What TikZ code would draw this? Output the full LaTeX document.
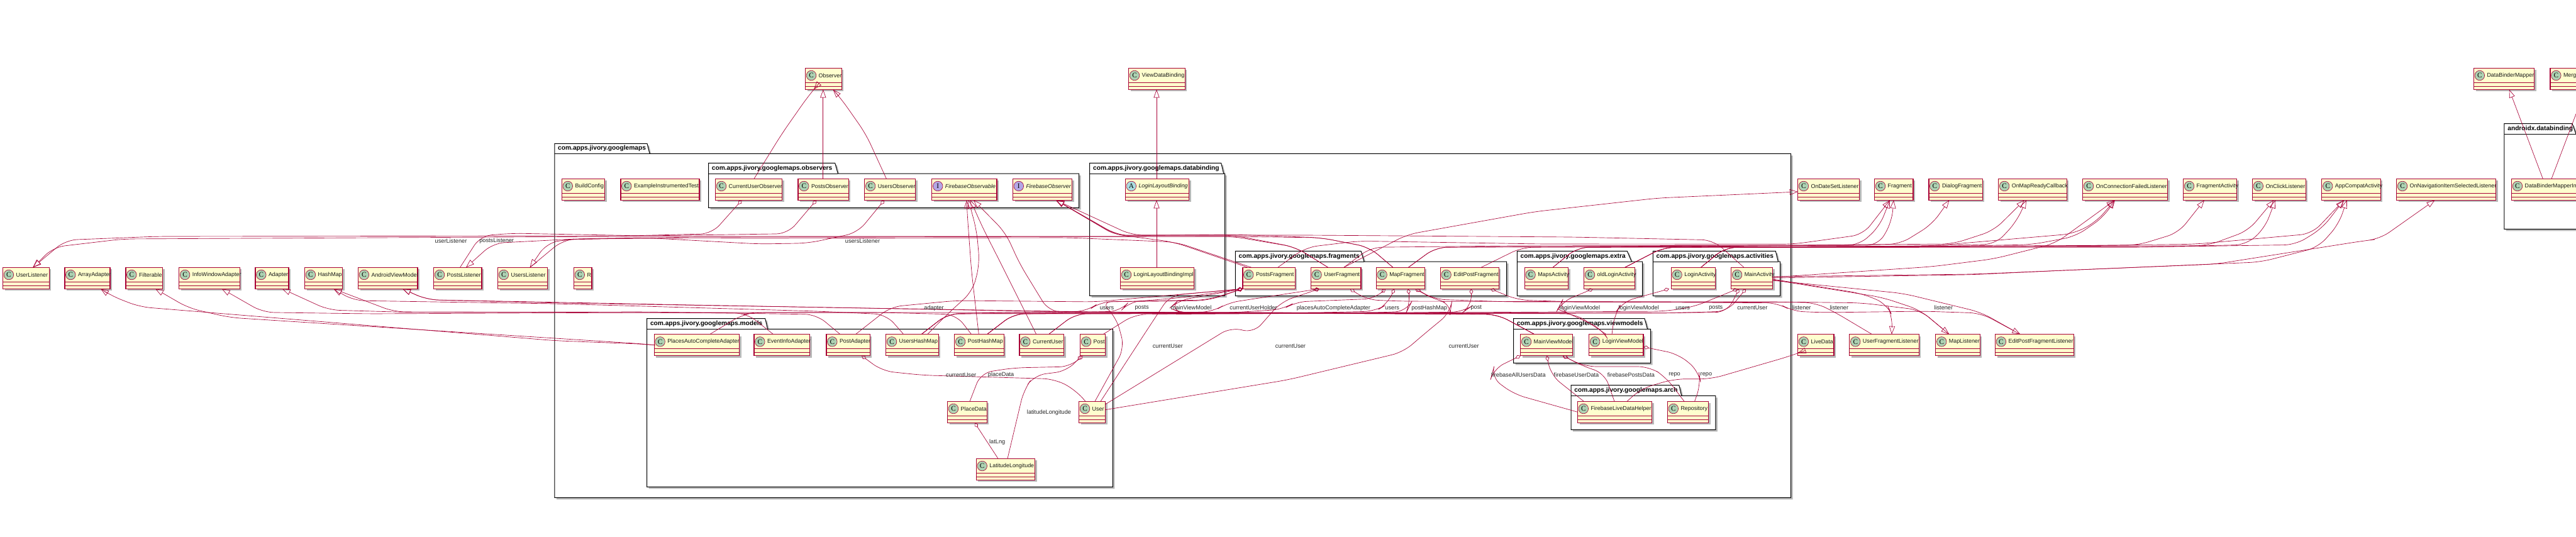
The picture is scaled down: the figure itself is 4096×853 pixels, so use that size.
\documentclass[tikz,border=0pt]{standalone}
\usepackage{fontspec}
\setmainfont{Liberation Sans}
\usetikzlibrary{arrows.meta,shadows}
\definecolor{umlred}{HTML}{A80036}
\definecolor{umlbox}{HTML}{FEFECE}
\definecolor{dotC}{HTML}{ADD1B2}
\definecolor{dotI}{HTML}{B4A7E5}
\definecolor{dotA}{HTML}{A9DCDF}
\tikzset{
  clsbox/.style={draw=umlred,line width=.55pt,fill=umlbox,inner sep=0pt,outer sep=0pt,minimum height=17pt,
    general shadow={fill=black!28,shadow xshift=1.5pt,shadow yshift=-1.5pt}},
  clsrule/.style={draw=umlred,line width=.55pt},
  clsdot/.style={circle,draw=umlred,line width=.3pt,inner sep=0pt,minimum size=7.8pt,font=\fontsize{5.6}{6}\selectfont\bfseries\setmainfont{Liberation Serif}},
  clslabel/.style={anchor=west,inner sep=0pt,text=black!90,font=\fontsize{4.45}{5}\selectfont},
  pkgline/.style={draw=black,line width=.5pt,fill=white,general shadow={fill=black!28,shadow xshift=1.5pt,shadow yshift=-1.5pt}},
  pkglabel/.style={anchor=west,inner sep=0pt,font=\fontsize{5.1}{6}\selectfont\bfseries},
  edgelabel/.style={inner sep=0pt,text=black!85,font=\fontsize{4.6}{5}\selectfont},
  edgeline/.style={draw=umlred,line width=.33pt,rounded corners=9pt},
}
\newcommand\clsk[7]{%
  \node[clsbox,minimum width={(#3-#2)*0.5pt},anchor=north west] (#1) at (#2,#4) {};
  \draw[clsrule] ([yshift=-11.5pt]#1.north west) -- ([yshift=-11.5pt]#1.north east);
  \draw[clsrule] ([yshift=-14.5pt]#1.north west) -- ([yshift=-14.5pt]#1.north east);
  \node[clsdot,fill=#6] (#1c) at ([xshift=4.65pt,yshift=-5.85pt]#1.north west) {#5};
  \node[clslabel] (#1t) at ([xshift=10.3pt,yshift=-5.85pt]#1.north west) {#7};
}
\newcommand\cls[5]{\clsk{#1}{#2}{#3}{#4}{C}{dotC}{#5}}
\newcommand\pkg[9]{%
  \path[pkgline] (#2,#3) -- (#5,#3) -- (#6,#4) -- (#7,#4) -- (#7,#8) -- (#2,#8) -- cycle;
  \draw[black,line width=.5pt] (#2,#4) -- (#6,#4);
  \node[pkglabel] (#1) at ([xshift=2.5pt]#2,{(#3+#4)/2}) {#9};
}
\newcommand\elab[4]{\node[edgelabel] (#1) at (#2,#3) {#4};}
\newcommand\gen[1]{\draw[edgeline,-{Triangle[open,length=6.5pt,width=4.6pt]}] #1;}
\newcommand\aggr[1]{\draw[edgeline,{Diamond[open,length=4.5pt,width=3pt]}-] #1;}
\newcommand\both[1]{\draw[edgeline,{Diamond[open,length=4.5pt,width=3pt]}-{Triangle[open,length=6.5pt,width=4.6pt]}] #1;}
\begin{document}
\begin{tikzpicture}[x=.5pt,y=-.5pt]
\useasboundingbox (0,0) rectangle (4096,853);
\clip (0,0) rectangle (4096,853);
% packages
\pkg{pmain}{881.8}{228.3}{244.3}{1029}{1033}{2847.5}{791.3}{com.apps.jivory.googlemaps}
\pkg{pobs}{1126.5}{259.3}{276}{1327.7}{1332.3}{1715.7}{330.3}{com.apps.jivory.googlemaps.observers}
\pkg{pbind}{1732.7}{259.3}{276}{1941.7}{1945.6}{1947.6}{470.3}{com.apps.jivory.googlemaps.databinding}
\pkg{pfrag}{1964.3}{399.3}{416}{2164}{2169}{2395.7}{470.7}{com.apps.jivory.googlemaps.fragments}
\pkg{pextra}{2412.3}{399.3}{416}{2587.3}{2594.3}{2611.7}{470.7}{com.apps.jivory.googlemaps.extra}
\pkg{pact}{2628.3}{399.3}{416}{2823.3}{2827.3}{2830.7}{470.7}{com.apps.jivory.googlemaps.activities}
\pkg{pmodel}{1028.6}{506.7}{523.3}{1216.7}{1220.6}{1769.3}{774.3}{com.apps.jivory.googlemaps.models}
\pkg{pvm}{2406.6}{506.7}{523.3}{2615}{2619.5}{2624.7}{577.3}{com.apps.jivory.googlemaps.viewmodels}
\pkg{parch}{2498}{612.7}{629.3}{2669.8}{2673.7}{2727.9}{683.3}{com.apps.jivory.googlemaps.arch}
\pkg{pandx}{3981.9}{196.7}{213.3}{4090}{4096}{4150}{364.3}{androidx.databinding}
% top row
\cls{OBS}{1280.7}{1338.2}{108.3}{Observer}
\cls{VDB}{1794.7}{1884.2}{108.3}{ViewDataBinding}
\cls{DBM}{3933.5}{4029.5}{108.3}{DataBinderMapper}
\cls{MDBM}{4055}{4200}{108.3}{MergedDataBinderMapper}
% row B
\cls{BC}{893.5}{961.5}{284.3}{BuildConfig}
\cls{EIT}{987}{1112}{284.3}{ExampleInstrumentedTest}
\cls{CUO}{1137.7}{1243.5}{284.3}{CurrentUserObserver}
\cls{POB}{1269}{1349.3}{284.3}{PostsObserver}
\cls{UOB}{1374.8}{1455.7}{284.3}{UsersObserver}
\clsk{FOA}{1481.9}{1585}{284.3}{I}{dotI}{\itshape FirebaseObservable}
\clsk{FOB}{1610.5}{1704.6}{284.3}{I}{dotI}{\itshape FirebaseObserver}
\clsk{LLB}{1789.5}{1890.7}{284.3}{A}{dotA}{\itshape LoginLayoutBinding}
\cls{ODS}{2858.6}{2956.6}{284.3}{OnDateSetListener}
\cls{FRG}{2980.7}{3042}{284.3}{Fragment}
\cls{DLG}{3067}{3152.3}{284.3}{DialogFragment}
\cls{OMR}{3177.8}{3286.2}{284.3}{OnMapReadyCallback}
\cls{OCF}{3311.7}{3446.9}{284.3}{OnConnectionFailedListener}
\cls{FAC}{3471.7}{3556.7}{284.3}{FragmentActivity}
\cls{OCL}{3581.5}{3666.4}{284.3}{OnClickListener}
\cls{ACA}{3691.9}{3785.3}{284.3}{AppCompatActivity}
\cls{ONI}{3810.7}{3968.8}{284.3}{OnNavigationItemSelectedListener}
\cls{DBMI}{3993.6}{4125}{284.3}{DataBinderMapperImpl}
% row A
\cls{UL}{4.6}{78.4}{425.3}{UserListener}
\cls{AAD}{103}{175}{425.3}{ArrayAdapter}
\cls{FIL}{200}{258.6}{425.3}{Filterable}
\cls{IWA}{284.8}{381.4}{425.3}{InfoWindowAdapter}
\cls{ADP}{406}{459}{425.3}{Adapter}
\cls{HMP}{484.6}{544.7}{425.3}{HashMap}
\cls{AVM}{569.6}{664}{425.3}{AndroidViewModel}
\cls{PLS}{689.7}{766}{425.3}{PostsListener}
\cls{ULS}{791.6}{870.7}{425.3}{UsersListener}
\cls{RRR}{912.5}{941}{425.3}{R}
\cls{LLBI}{1781.7}{1898.6}{425.3}{LoginLayoutBindingImpl}
\cls{PFR}{1976}{2059.3}{425.3}{PostsFragment}
\cls{UFR}{2084.3}{2164}{425.3}{UserFragment}
\cls{MFR}{2188.3}{2265.3}{425.3}{MapFragment}
\cls{EPF}{2290.3}{2383.3}{425.3}{EditPostFragment}
\cls{MAC}{2424.3}{2493.7}{425.3}{MapsActivity}
\cls{OLA}{2518.7}{2599.3}{425.3}{oldLoginActivity}
\cls{LAC}{2657.3}{2727.3}{425.3}{LoginActivity}
\cls{MAI}{2752.8}{2818.7}{425.3}{MainActivity}
% row C
\cls{PACA}{1040.3}{1175.5}{531.7}{PlacesAutoCompleteAdapter}
\cls{EVA}{1199}{1287.9}{531.7}{EventInfoAdapter}
\cls{PAD}{1314}{1383.2}{531.7}{PostAdapter}
\cls{UHM}{1408.7}{1492.3}{531.7}{UsersHashMap}
\cls{PHM}{1517.8}{1596.2}{531.7}{PostHashMap}
\cls{CUR}{1621}{1691.5}{531.7}{CurrentUser}
\cls{PST}{1717.7}{1757.5}{531.7}{Post}
\cls{MVM}{2417.7}{2500.6}{531.7}{MainViewModel}
\cls{LVM}{2526.8}{2613}{531.7}{LoginViewModel}
\cls{LDT}{2858.6}{2916}{531.7}{LiveData}
\cls{UFL}{2940.9}{3051.3}{531.7}{UserFragmentListener}
\cls{MLS}{3077.9}{3148.4}{531.7}{MapListener}
\cls{EPL}{3172.6}{3297.3}{531.7}{EditPostFragmentListener}
\cls{PDT}{1506.7}{1569.4}{638.3}{PlaceData}
\cls{USR}{1715.7}{1757.5}{638.3}{User}
\cls{FLD}{2508.5}{2626.7}{638.3}{FirebaseLiveDataHelper}
\cls{REP}{2651.5}{2716.8}{638.3}{Repository}
\cls{LAT}{1552.4}{1645.8}{729.3}{LatitudeLongitude}
% straight inheritance
\gen{(CUO.north -| 1199,0) -- (1243,213) -- (1285,153) -- (OBS.south -| 1294,0)}
\gen{(POB.north -| 1308.8,0) -- (OBS.south -| 1308.8,0)}
\gen{(UOB.north -| 1409.4,0) -- (1376.7,213) -- (1337.5,157) -- (OBS.south -| 1324.5,0)}
\gen{(LLB.north -| 1839,0) -- (VDB.south -| 1839,0)}
\gen{(LLBI.north -| 1839,0) -- (LLB.south -| 1839,0)}
\gen{(DBMI.north -| 4043.3,0) -- (DBM.south -| 3989.7,0)}
\gen{(DBMI.north -| 4057,0) -- (MDBM.south -| 4110.7,0)}
% FirebaseObservable
\gen{(PHM.north -| 1556.3,0) -- (1544.6,430) -- (1538,340) -- (FOA.south -| 1537,0)}
\gen{(UHM.north -| 1474.7,0) -- (1507,499) -- (1546.5,463) -- (1557.6,420) -- (1553,367) -- (FOA.south -| 1540,0)}
\gen{(CUR.north -| 1647.8,0) -- (1611.9,460) -- (1592,420) -- (1563,363) -- (FOA.south -| 1543,0)}
\gen{(MVM.north -| 2440,0) -- (2381,500) -- (2000,497) -- (1700,497) -- (1667.4,495) -- (1621.6,420) -- (1598.8,370) -- (FOA.south -| 1548,0)}
% FirebaseObserver
\gen{(PFR.north -| 1984,0) -- (1866.6,385) -- (1775,373) -- (FOB.south -| 1679,0)}
\gen{(UFR.north -| 2111.7,0) -- (2060,393) -- (1960,374) -- (1775,374) -- (FOB.south -| 1679,0)}
\gen{(MFR.north -| 2215,0) -- (2177,393) -- (2100,378) -- (1960,373) -- (1775,375) -- (FOB.south -| 1679,0)}
\gen{(MAI.north -| 2773,0) -- (2724,381.7) -- (2500,377) -- (2080,374) -- (1800,374) -- (FOB.south -| 1679,0)}
% left listeners
\both{(CUO.south -| 1179.5,0) -- (1131.8,371.7) -- (1000,375) -- (250,376) -- (104.5,381.7) -- (UL.north -| 52.3,0)}
\gen{(UFR.north -| 2111.7,0) -- (2060,393) -- (1960,376) -- (1000,376) -- (196,380) -- (85,393) -- (UL.north -| 52.3,0)}
\aggr{(POB.south -| 1298,0) -- (1252.6,371.7) -- (1024,375) -- (815,371) -- (764,375) -- (PLS.north -| 731.5,0)}
\gen{(PFR.north -| 1990,0) -- (1870,385) -- (1700,378) -- (1024,379) -- (914,380) -- (784,386.7) -- (PLS.north -| 741,0)}
\aggr{(UOB.south -| 1406,0) -- (1363.6,370) -- (1285,386.7) -- (1207,388) -- (1024,378) -- (914,380) -- (895,381.7) -- (ULS.north -| 842.6,0)}
\gen{(MFR.north -| 2215,0) -- (2177,393) -- (2100,378) -- (1960,376) -- (1100,377) -- (900,381) -- (869,386.7) -- (ULS.north -| 842.6,0)}
% lower left generalisations
\gen{(PACA.west) -- (1024,547.3) -- (882,541.7) -- (222,488) -- (176,470) -- (AAD.south -| 160,0)}
\gen{(PACA.west) -- (1024,547) -- (366,505) -- (300,490) -- (FIL.south -| 247,0)}
\gen{(EVA.north -| 1229.7,0) -- (1187,498) -- (1024,497) -- (588,499) -- (418,496.7) -- (IWA.south -| 352.7,0)}
\gen{(PAD.north -| 1336,0) -- (1298,500) -- (1024,496) -- (653,496.7) -- (522.5,493) -- (ADP.south -| 448.7,0)}
\gen{(UHM.north -| 1436.8,0) -- (1409,500) -- (1300,495) -- (1024,487) -- (882,483) -- (562,478) -- (HMP.south -| 530.4,0)}
\gen{(PHM.north -| 1544.6,0) -- (1520,500) -- (1400,497) -- (1024,497) -- (627,496) -- (HMP.south -| 530.4,0)}
\gen{(MVM.north -| 2440,0) -- (2381,500) -- (1800,497) -- (1200,487) -- (882,481.7) -- (679,476.7) -- (AVM.south -| 640,0)}
\gen{(LVM.north -| 2554,0) -- (2505,499) -- (1700,496) -- (1100,485) -- (882,480.7) -- (679,476.7) -- (AVM.south -| 640,0)}
% right generalisations
\gen{(PFR.north -| 2031.7,0) -- (2076.7,393.3) -- (2160,383.3) -- (2450,388) -- (2851,388.3) -- (2962.4,373) -- (FRG.south -| 3005,0)}
\gen{(UFR.north -| 2136.7,0) -- (2180,393.3) -- (2400,391) -- (2956,390) -- (2988.6,360) -- (FRG.south -| 3005,0)}
\gen{(MFR.north -| 2239.3,0) -- (2283,393.3) -- (2500,392) -- (2986.6,390) -- (3008,353) -- (FRG.south -| 3011,0)}
\gen{(UFR.north -| 2136.7,0) -- (2237.4,373) -- (2440,336.7) -- (2636,315) -- (ODS.west |- 0,305)}
\gen{(EPF.north -| 2355,0) -- (2420,393.3) -- (2700,392) -- (3021,388.3) -- (3072,356.7) -- (DLG.south -| 3099.4,0)}
\gen{(MFR.north -| 2239.3,0) -- (2283,393.3) -- (2600,392) -- (3104.7,388) -- (3170,366.7) -- (OMR.south -| 3219,0)}
\gen{(MAC.north -| 2469,0) -- (2508.5,393.3) -- (3000,392) -- (3173,388.3) -- (3206,353) -- (OMR.south -| 3222,0)}
\gen{(OLA.north -| 2583.6,0) -- (2645.6,393.3) -- (3072,391) -- (3297,371.7) -- (3333,353) -- (OCF.south -| 3362.7,0)}
\gen{(LAC.north -| 2704.4,0) -- (2743.6,393.3) -- (3072,392) -- (3230,389) -- (3300,376) -- (3345,345) -- (OCF.south -| 3362.7,0)}
\gen{(MAI.east |- 0,441) -- (3072,424) -- (3170,411.7) -- (3268,387) -- (OCF.south -| 3362.7,0)}
\gen{(MAC.north -| 2469,0) -- (2508.5,393.3) -- (3000,392) -- (3398.6,390) -- (3464,370) -- (FAC.south -| 3505,0)}
\gen{(OLA.north -| 2583.6,0) -- (2645.6,393.3) -- (3200,392) -- (3509.6,390.7) -- (3575,366.7) -- (OCL.south -| 3615.4,0)}
\gen{(LAC.north -| 2704.4,0) -- (2743.6,393.3) -- (3400,393) -- (3571.7,389.3) -- (3601,363) -- (OCL.south -| 3618,0)}
\gen{(OLA.north -| 2583.6,0) -- (2645.6,393.3) -- (3200,392) -- (3490,388.3) -- (3676,371.7) -- (ACA.south -| 3727,0)}
\gen{(LAC.north -| 2704.4,0) -- (2743.6,393.3) -- (3400,393) -- (3650,389.3) -- (3692.5,363) -- (ACA.south -| 3727,0)}
\gen{(MAI.east |- 0,442) -- (3137,436.7) -- (3281,430) -- (3594.5,416.7) -- (3686,393.3) -- (3718.6,356.7) -- (ACA.south -| 3731.7,0)}
\gen{(MAI.east |- 0,440) -- (3137,436) -- (3522.7,420) -- (3758,383) -- (3784,380) -- (ONI.south -| 3871.5,0)}
\gen{(MAI.east |- 0,444) -- (2960,466.7) -- (3000,483) -- (3009,503) -- (UFL.north -| 3008,0)}
\gen{(MAI.east |- 0,445) -- (2993,473) -- (3053,493) -- (MLS.north -| 3099.4,0)}
\gen{(MAI.east |- 0,446) -- (3026.7,466.7) -- (3150,496.7) -- (EPL.north -| 3212.4,0)}
\gen{(FLD.north -| 2587,0) -- (2609.7,618) -- (2662,602.7) -- (2720.8,602.7) -- (2844.8,566.7) -- (LDT.west |- 0,561.7)}
% aggregations from fragments and activities
\aggr{(PFR.south west) -- (1920,478) -- (1749,480) -- (1729,495) -- (1600,497) -- (1507,499) -- (UHM.north -| 1465,0)}
\aggr{(PFR.south west) -- (1873,474) -- (1795,480) -- (1781.7,495) -- (1612,499) -- (PHM.north -| 1569.4,0)}
\aggr{(PFR.south west) -- (1873,478) -- (1860,490) -- (1880,498) -- (2300,497) -- (2381,500) -- (MVM.north -| 2440,0)}
\aggr{(PFR.south west) -- (1742.5,480) -- (1520.4,478) -- (1416,488) -- (PAD.north -| 1360.4,0)}
\aggr{(PFR.south west) -- (1860,470) -- (1827,520) -- (USR.north -| 1750,0)}
\aggr{(PFR.south west) -- (1920,477) -- (1750,480) -- (1775,505) -- (1788,553) -- (USR.north -| 1741,0)}
\aggr{(UFR.south -| 2098,0) -- (2037,480) -- (1993,530) -- (1958,520) -- (USR.east |- 0,643)}
\aggr{(UFR.south -| 2098,0) -- (1951.5,481.7) -- (1928.6,496) -- (1710,499) -- (CUR.north -| 1667.4,0)}
\aggr{(UFR.south -| 2146.7,0) -- (2173,476.7) -- (2226.7,479) -- (2640,480) -- (2885,481) -- (2915,495) -- (UFL.north -| 2976.7,0)}
\aggr{(MFR.south -| 2203,0) -- (2187,475) -- (2060,480) -- (2040,492) -- (1960,497) -- (1200,497) -- (1180.8,500) -- (PACA.north -| 1128.5,0)}
\aggr{(MFR.south -| 2217,0) -- (2207,483) -- (2187,495) -- (2100,497) -- (1507,499) -- (UHM.north -| 1465,0)}
\aggr{(MFR.south -| 2239,0) -- (2243,483) -- (2237,495) -- (2193,497) -- (1612,499) -- (PHM.north -| 1569.4,0)}
\aggr{(MFR.south -| 2250,0) -- (2280,476) -- (2308,483) -- (2306,497) -- (2266,530) -- (2231,560) -- (2048,604) -- (USR.east |- 0,651.7)}
\aggr{(MFR.south -| 2252,0) -- (2280,476) -- (2400,480) -- (2826,480) -- (2960,481.7) -- (3053,493) -- (MLS.north -| 3099.4,0)}
\aggr{(EPF.south -| 2339.3,0) -- (2340,487) -- (2327,496) -- (2260,497) -- (1804.5,500) -- (PST.north -| 1754,0)}
\aggr{(EPF.south -| 2370,0) -- (2413,477) -- (2500,480) -- (2826.7,481.7) -- (2850,495) -- (2900,497) -- (3060,495) -- (3150,498) -- (EPL.north -| 3212.4,0)}
\aggr{(OLA.south -| 2533,0) -- (2483,480) -- (2477,491.7) -- (2493,498) -- (2547,523) -- (LVM.north -| 2552,0)}
\aggr{(LAC.south -| 2654,0) -- (2580,480) -- (2567,500) -- (LVM.north -| 2563,0)}
\aggr{(MAI.south -| 2763,0) -- (2693,488) -- (2647,495) -- (2300,497) -- (1507,499) -- (UHM.north -| 1465,0)}
\aggr{(MAI.south -| 2765,0) -- (2747,496) -- (2713,497) -- (1612,499) -- (PHM.north -| 1569.4,0)}
\aggr{(MAI.south -| 2776,0) -- (2747,495) -- (2655,498) -- (1710,499) -- (CUR.north -| 1667.4,0)}
% inside models
\aggr{(PAD.south -| 1370,0) -- (1403,590) -- (1468,596.7) -- (1677,602.7) -- (1710,620) -- (USR.north -| 1726,0)}
\aggr{(PST.south -| 1721.6,0) -- (1703,583) -- (1612,585) -- (1559.6,593) -- (PDT.north -| 1542,0)}
\aggr{(PST.south -| 1719.6,0) -- (1696.8,590) -- (1644.5,596.7) -- (1628,620) -- (LAT.north -| 1602,0)}
\aggr{(PDT.south -| 1549.8,0) -- (LAT.north -| 1587,0)}
% view models
\aggr{(MVM.south west) -- (2374.6,586.7) -- (2371,600) -- (2407,626.7) -- (FLD.west)}
\aggr{(MVM.south -| 2459.5,0) -- (2466,596.7) -- (FLD.north -| 2518.3,0)}
\aggr{(MVM.south -| 2485.6,0) -- (2518,583) -- (2551,593) -- (FLD.north -| 2567,0)}
\aggr{(MVM.south -| 2484.6,0) -- (2520,583) -- (2622.8,583) -- (2649,600) -- (REP.north -| 2678,0)}
\aggr{(LVM.east |- 0,551.7) -- (2668.5,563) -- (2701,590) -- (2704.4,610) -- (REP.north -| 2694.6,0)}
% labels
\elab{l1}{717}{383.3}{userListener}
\elab{l2}{789.7}{383.3}{postsListener}
\elab{l3}{1371.5}{383.3}{usersListener}
\elab{l4}{1485}{489.7}{adapter}
\elab{l5}{1760}{489.7}{users}
\elab{l6}{1815.6}{489.7}{posts}
\elab{l7}{1894}{489.7}{mainViewModel}
\elab{l8}{1993}{489.7}{currentUserHolder}
\elab{l9}{2120.3}{489.7}{placesAutoCompleteAdapter}
\elab{l10}{2213.7}{489.7}{users}
\elab{l11}{2272.7}{489.7}{postHashMap}
\elab{l12}{2347.3}{489.7}{post}
\elab{l13}{2512}{489.7}{loginViewModel}
\elab{l14}{2605.7}{489.7}{loginViewModel}
\elab{l15}{2675.7}{489.7}{users}
\elab{l16}{2728.3}{489.7}{posts}
\elab{l17}{2786.3}{489.7}{currentUser}
\elab{l18}{2864.7}{489.7}{listener}
\elab{l19}{2924.3}{489.7}{listener}
\elab{l20}{3090.3}{489.7}{listener}
\elab{l21}{1856.8}{550}{currentUser}
\elab{l22}{2052}{550}{currentUser}
\elab{l23}{2327.6}{550}{currentUser}
\elab{l24}{1528.2}{596}{currentUser}
\elab{l25}{1591.6}{596}{placeData}
\elab{l26}{1668}{656}{latitudeLongitude}
\elab{l27}{1585.7}{702.7}{latLng}
\elab{l28}{2414.4}{596}{firebaseAllUsersData}
\elab{l29}{2506.5}{596}{firebaseUserData}
\elab{l30}{2593.4}{596}{firebasePostsData}
\elab{l31}{2662.6}{596}{repo}
\elab{l32}{2712.9}{596}{repo}
\end{tikzpicture}
\end{document}
